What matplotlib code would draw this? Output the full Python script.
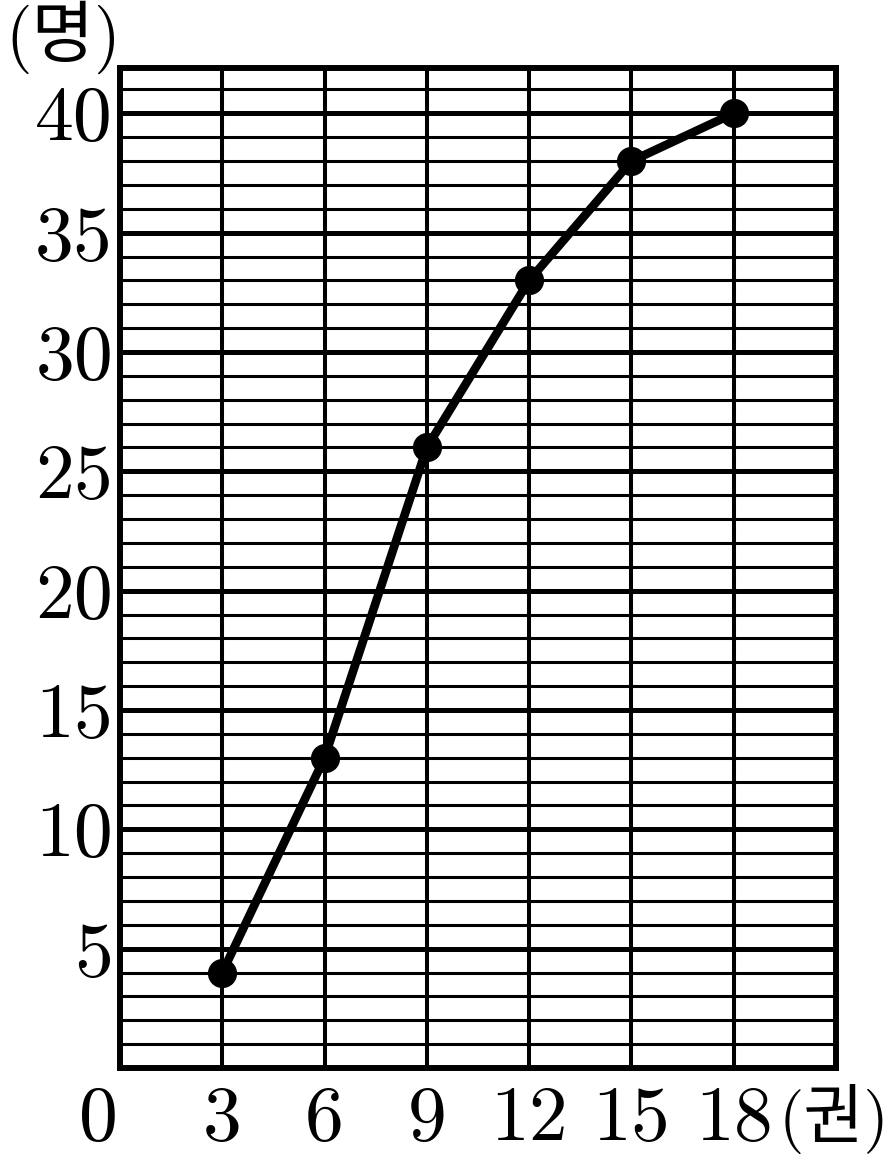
import matplotlib
matplotlib.use("Agg")
import matplotlib.pyplot as plt
from matplotlib.ticker import MultipleLocator

books = [3, 6, 9, 12, 15, 18]
people = [4, 13, 26, 33, 38, 40]
x_ticks = [3, 6, 9, 12, 15, 18]
x_tick_labels = ["3", "6", "9", "12", "15", "18"]
y_ticks = [5, 10, 15, 20, 25, 30, 35, 40]
y_tick_labels = ["5", "10", "15", "20", "25", "30", "35", "40"]
x_unit = "(권)"
y_unit = "(명)"

W, H = 893, 1164
fig = plt.figure(figsize=(W / 100, H / 100), dpi=100)
left, right, top, bottom = 120, 836, 68, 1068
ax = fig.add_axes([left / W, 1 - bottom / H, (right - left) / W, (bottom - top) / H])

ax.set_xlim(0, 21)
ax.set_ylim(0, 41.9)

ax.set_xticks(x_ticks)
ax.set_xticklabels(x_tick_labels)
ax.set_yticks(y_ticks)
ax.set_yticklabels(y_tick_labels)
ax.yaxis.set_minor_locator(MultipleLocator(1))
ax.xaxis.set_minor_locator(MultipleLocator(3))

ax.grid(which="major", axis="y", color="black", lw=3.6, zorder=1)
ax.grid(which="minor", axis="y", color="black", lw=2.2, zorder=1)
ax.grid(which="both", axis="x", color="black", lw=2.9, zorder=1)
ax.set_axisbelow(True)

for s in ax.spines.values():
    s.set_linewidth(4.3)
    s.set_color("black")

num_font = "cmr10"
fs = 56
ax.tick_params(which="both", length=0)
ax.tick_params(axis="y", pad=5, labelsize=fs)
ax.tick_params(axis="x", pad=52, labelsize=fs)
for lab in ax.get_xticklabels() + ax.get_yticklabels():
    lab.set_fontfamily(num_font)
for lab in ax.get_xticklabels():
    lab.set_verticalalignment("baseline")

ax.plot(books, people, color="black", lw=6.2, marker="o", markersize=20,
        solid_capstyle="round", solid_joinstyle="round", zorder=5, clip_on=False)

ax.text(-0.030, -0.072, "0", transform=ax.transAxes, ha="center", va="baseline",
        fontsize=fs, family=num_font)
ax.text(0.9205, -0.070, x_unit, transform=ax.transAxes, ha="left", va="baseline",
        fontsize=47, family=[num_font, "Noto Sans CJK KR"])
ax.text(-0.1606, 1.011, y_unit, transform=ax.transAxes, ha="left", va="baseline",
        fontsize=49, family=[num_font, "Noto Sans CJK KR"])

fig.savefig("out.png", dpi=100)
